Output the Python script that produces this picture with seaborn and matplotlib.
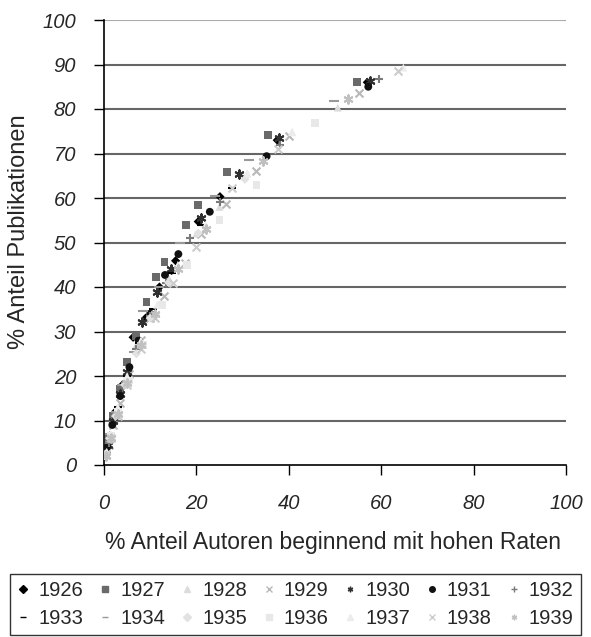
import matplotlib
matplotlib.use("Agg")
import matplotlib.pyplot as plt
import seaborn as sns
import pandas as pd

years = ["1926", "1927", "1928", "1929", "1930", "1931", "1932",
         "1933", "1934", "1935", "1936", "1937", "1938", "1939"]

x_1926 = [0.5, 1.2, 2.5, 4.0, 6.3, 9.0, 12.0, 15.5, 20.4, 25.1, 37.5, 57.0]
y_1926 = [3.0, 6.5, 12.0, 18.0, 28.7, 33.0, 40.0, 45.9, 54.7, 60.3, 73.0, 86.0]
x_1927 = [0.5, 1.0, 2.0, 3.5, 4.9, 7.0, 9.2, 11.3, 13.1, 17.7, 20.4, 26.6, 35.5, 54.7]
y_1927 = [3.0, 6.0, 11.0, 17.0, 23.2, 29.0, 36.6, 42.3, 45.7, 53.9, 58.4, 65.9, 74.2, 86.0]
x_1928 = [1.0, 2.5, 4.5, 7.0, 10.0, 14.0, 20.0, 25.0, 31.0, 40.7, 50.6]
y_1928 = [5.0, 11.0, 19.0, 27.0, 34.0, 42.0, 52.0, 58.0, 65.5, 74.8, 80.3]
x_1929 = [1.0, 2.0, 3.5, 5.5, 8.0, 10.0, 13.0, 17.5, 21.0, 26.3, 33.0, 40.1, 55.1]
y_1929 = [4.5, 9.0, 14.0, 20.5, 28.0, 33.0, 38.0, 45.5, 52.0, 58.7, 66.0, 73.9, 83.7]
x_1930 = [0.8, 2.0, 3.5, 5.0, 8.2, 11.4, 14.5, 21.0, 29.3, 37.9, 57.6]
y_1930 = [4.5, 10.0, 16.0, 21.0, 32.2, 38.8, 44.0, 55.5, 65.5, 73.4, 86.3]
x_1931 = [0.7, 1.8, 3.5, 5.5, 7.5, 10.0, 13.2, 16.1, 22.9, 35.2, 57.2]
y_1931 = [4.0, 9.0, 15.5, 22.0, 28.0, 34.0, 42.7, 47.4, 56.9, 69.4, 85.0]
x_1932 = [1.0, 2.5, 4.5, 7.0, 10.0, 13.5, 18.6, 25.0, 38.0, 59.6]
y_1932 = [5.0, 11.5, 18.5, 26.0, 33.5, 41.0, 50.9, 59.0, 72.0, 86.7]
x_1933 = [0.6, 1.5, 3.0, 5.0, 7.5, 10.5, 14.7, 21.0, 27.6]
y_1933 = [3.0, 7.0, 13.0, 20.0, 27.5, 35.0, 43.2, 54.0, 62.2]
x_1934 = [0.5, 1.2, 2.5, 4.0, 6.5, 8.5, 12.0, 16.5, 24.0, 31.4, 49.8]
y_1934 = [3.0, 7.0, 12.0, 18.0, 25.5, 34.7, 40.0, 49.8, 60.4, 68.5, 81.8]
x_1935 = [0.4, 1.2, 2.5, 4.5, 7.0, 10.0, 14.0, 20.4, 30.5]
y_1935 = [2.5, 6.0, 11.0, 18.0, 25.0, 33.0, 41.0, 52.1, 64.2]
x_1936 = [0.5, 1.5, 3.0, 5.5, 8.5, 12.5, 18.0, 25.0, 33.0, 45.7]
y_1936 = [2.0, 6.5, 12.0, 19.0, 27.0, 36.0, 45.0, 55.0, 63.0, 76.8]
x_1937 = [0.6, 1.5, 3.0, 5.0, 8.0, 11.5, 16.0, 22.0, 31.0, 40.7, 64.8]
y_1937 = [3.0, 7.0, 13.0, 20.0, 28.0, 36.0, 45.0, 54.0, 65.5, 74.8, 89.3]
x_1938 = [0.5, 1.5, 3.0, 5.0, 8.0, 11.0, 15.0, 20.0, 27.6, 37.7, 63.6]
y_1938 = [2.5, 6.0, 11.0, 18.0, 26.0, 33.0, 41.0, 49.0, 62.2, 70.9, 88.6]
x_1939 = [0.5, 1.5, 3.0, 5.0, 8.0, 11.0, 16.0, 22.0, 34.5, 52.9]
y_1939 = [2.0, 6.0, 11.5, 18.5, 27.0, 34.0, 44.0, 53.0, 68.3, 82.2]

xs = [x_1926, x_1927, x_1928, x_1929, x_1930, x_1931, x_1932,
      x_1933, x_1934, x_1935, x_1936, x_1937, x_1938, x_1939]
ys = [y_1926, y_1927, y_1928, y_1929, y_1930, y_1931, y_1932,
      y_1933, y_1934, y_1935, y_1936, y_1937, y_1938, y_1939]

asterisk = (6, 2, 0)
styles = {
    "1926": ("D", "#000000", 22),
    "1927": ("s", "#6a6a6a", 32),
    "1928": ("^", "#dcdcdc", 32),
    "1929": ("x", "#b8b8b8", 32),
    "1930": (asterisk, "#303030", 36),
    "1931": ("o", "#111111", 32),
    "1932": ("+", "#7a7a7a", 36),
    "1933": ("_", "#000000", 36),
    "1934": ("_", "#999999", 55),
    "1935": ("D", "#e2e2e2", 22),
    "1936": ("s", "#e8e8e8", 32),
    "1937": ("^", "#ececec", 32),
    "1938": ("x", "#cccccc", 32),
    "1939": (asterisk, "#c0c0c0", 36),
}

rows = []
for yr, xv, yv in zip(years, xs, ys):
    for a, b in zip(xv, yv):
        rows.append({"year": yr, "x": a, "y": b})
df = pd.DataFrame(rows)

sns.set_style("white")
plt.rcParams["font.family"] = ["Liberation Sans", "DejaVu Sans"]

fig = plt.figure(figsize=(5.91, 6.37), dpi=100)
ax = fig.add_axes([104 / 591, 1 - 465 / 637, (566 - 104) / 591, (465 - 20) / 637])

for v in range(10, 100, 10):
    ax.axhline(v, color="#666666", lw=1.5, zorder=0)
ax.axhline(100, color="#aaaaaa", lw=1.5, zorder=0)

handles = {}
for yr in years:
    m, c, s = styles[yr]
    sub = df[df["year"] == yr]
    lw = 1.5 if m in ("x", "+", "_", asterisk) else 0
    sns.scatterplot(data=sub, x="x", y="y", ax=ax, marker=m, color=c, s=s,
                    edgecolor=c if lw else "none", linewidth=lw, legend=False,
                    zorder=3)
    handles[yr] = plt.Line2D([], [], linestyle="none", marker=m, color=c,
                             markersize=4, markeredgewidth=1.0, label=yr)

ax.set_xlim(0, 100)
ax.set_ylim(0, 100)
ax.set_xticks(range(0, 101, 20))
ax.set_yticks(range(0, 101, 10))
ax.tick_params(axis="both", labelsize=14.5, length=7, width=1, color="black",
               direction="out", bottom=True, left=True)
for lab in ax.get_xticklabels() + ax.get_yticklabels():
    lab.set_fontstyle("italic")
ax.tick_params(axis="x", pad=14)
ax.tick_params(axis="y", pad=13)
for side in ("top", "right"):
    ax.spines[side].set_visible(False)
for side in ("left", "bottom"):
    ax.spines[side].set_color("black")
    ax.spines[side].set_linewidth(1.2)

ax.set_xlabel("% Anteil Autoren beginnend mit hohen Raten", fontsize=16.5, va="center")
ax.set_ylabel("% Anteil Publikationen", fontsize=17, va="center")
ax.xaxis.set_label_coords((333 - 104) / 462, (465 - 543) / 445)
ax.yaxis.set_label_coords((19 - 104) / 462, (465 - 232) / 445)

order = []
for i in range(7):
    order.append(handles[years[i]])
    order.append(handles[years[i + 7]])

leg = fig.legend(handles=order, loc="lower center", bbox_to_anchor=(0.5, 0.0),
                 ncol=7, fontsize=14.5, frameon=True, fancybox=False,
                 handlelength=0.6, handletextpad=0.45, columnspacing=0.78,
                 borderpad=0.35, labelspacing=0.45, borderaxespad=0.1)
leg.get_frame().set_edgecolor("black")
leg.get_frame().set_linewidth(1.0)

fig.savefig("out.png", dpi=100)
